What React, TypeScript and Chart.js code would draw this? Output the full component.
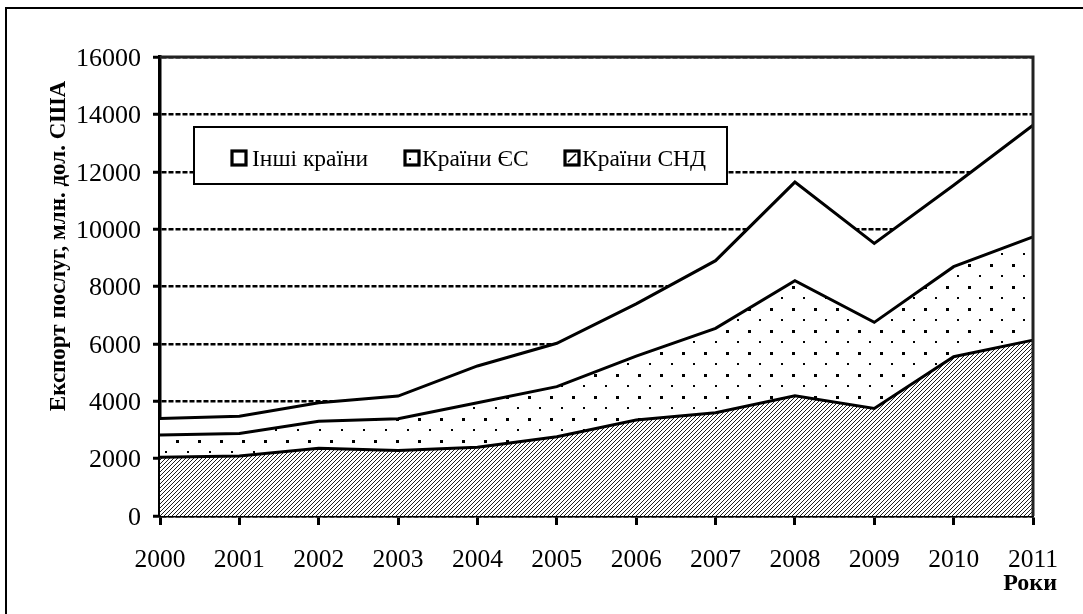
import { useEffect, useRef } from "react";
import { Chart, registerables } from "chart.js";

Chart.register(...registerables);

const years = ["2000", "2001", "2002", "2003", "2004", "2005", "2006", "2007", "2008", "2009", "2010", "2011"];
const cisValues = [2050, 2090, 2360, 2280, 2400, 2760, 3345, 3600, 4190, 3750, 5550, 6130];
const euValues = [770, 790, 940, 1110, 1550, 1750, 2230, 2940, 4010, 3000, 3140, 3600];
const otherValues = [580, 600, 650, 790, 1280, 1510, 1820, 2360, 3440, 2750, 2840, 3890];
const yTickValues = [0, 2000, 4000, 6000, 8000, 10000, 12000, 14000, 16000];
const seriesNames = ["Інші країни", "Країни ЄС", "Країни СНД"];
const yTitle = "Експорт послуг, млн. дол. США";
const xTitle = "Роки";

const FONT = "'Liberation Serif', 'Times New Roman', serif";

function makeHatch(): CanvasPattern | string {
  const c = document.createElement("canvas");
  c.width = 4;
  c.height = 4;
  const g = c.getContext("2d");
  if (!g) return "#888";
  g.fillStyle = "#ffffff";
  g.fillRect(0, 0, 4, 4);
  g.strokeStyle = "#1e1e1e";
  g.lineWidth = 1.0;
  g.beginPath();
  g.moveTo(-1, 5);
  g.lineTo(5, -1);
  g.moveTo(-1, 1);
  g.lineTo(1, -1);
  g.moveTo(3, 5);
  g.lineTo(5, 3);
  g.stroke();
  return g.createPattern(c, "repeat") || "#888";
}

function makeDots(): CanvasPattern | string {
  const c = document.createElement("canvas");
  c.width = 22;
  c.height = 22;
  const g = c.getContext("2d");
  if (!g) return "#fff";
  g.fillStyle = "#ffffff";
  g.fillRect(0, 0, 22, 22);
  g.fillStyle = "#000000";
  g.fillRect(0, 0, 3, 3);
  g.fillRect(11, 11, 2, 2);
  return g.createPattern(c, "repeat") || "#fff";
}

export default function App() {
  const ref = useRef<HTMLCanvasElement | null>(null);

  useEffect(() => {
    const canvas = ref.current;
    if (!canvas) return;
    const hatch = makeHatch();
    const dots = makeDots();

    const decor = {
      id: "decor",
      afterDraw(chart: any) {
        const ctx = chart.ctx as CanvasRenderingContext2D;
        const a = chart.chartArea;
        ctx.save();
        // outer frame (top / left)
        ctx.fillStyle = "#000";
        ctx.fillRect(5, 7, 1078, 2);
        ctx.fillRect(5, 7, 2, 607);
        // plot frame top / right
        ctx.strokeStyle = "#222";
        ctx.lineWidth = 3;
        ctx.beginPath();
        ctx.moveTo(a.left, a.top);
        ctx.lineTo(a.right, a.top);
        ctx.lineTo(a.right, a.bottom);
        ctx.stroke();

        // legend box
        const lx = 194, ly = 127, lw = 533, lh = 57;
        ctx.fillStyle = "#fff";
        ctx.fillRect(lx, ly, lw, lh);
        ctx.strokeStyle = "#000";
        ctx.lineWidth = 2;
        ctx.strokeRect(lx, ly, lw, lh);
        const iconX = [232, 405, 565];
        const textX = [252, 422, 582];
        ctx.font = `23.5px ${FONT}`;
        ctx.textBaseline = "alphabetic";
        ctx.textAlign = "left";
        for (let i = 0; i < 3; i++) {
          const x = iconX[i];
          ctx.fillStyle = "#fff";
          ctx.fillRect(x, 151, 14, 14);
          ctx.fillStyle = "#000";
          if (i === 1) {
            ctx.fillRect(x + 4, 158, 2, 2);
          }
          if (i === 2) {
            ctx.strokeStyle = "#000";
            ctx.lineWidth = 1.5;
            ctx.beginPath();
            ctx.moveTo(x + 3, 162);
            ctx.lineTo(x + 11, 154);
            ctx.stroke();
          }
          ctx.strokeStyle = "#000";
          ctx.lineWidth = 3.2;
          ctx.strokeRect(x, 151, 14, 14);
          ctx.fillStyle = "#000";
          ctx.fillText(seriesNames[i], textX[i], 166);
        }

        // y title
        ctx.save();
        ctx.translate(59, 246);
        ctx.rotate(-Math.PI / 2);
        ctx.font = `bold 23px ${FONT}`;
        ctx.textAlign = "center";
        ctx.textBaseline = "middle";
        ctx.fillStyle = "#000";
        ctx.fillText(yTitle, 0, 0);
        ctx.restore();

        // x title
        ctx.font = `bold 24px ${FONT}`;
        ctx.textAlign = "right";
        ctx.textBaseline = "alphabetic";
        ctx.fillStyle = "#000";
        ctx.fillText(xTitle, 1057, 590);
        ctx.restore();
      },
    };

    const ds = (label: string, data: number[], fill: any, bg: any) => ({
      label,
      data,
      fill,
      backgroundColor: bg,
      borderColor: "#000",
      borderWidth: 3,
      pointRadius: 0,
      tension: 0,
    });

    const chart = new Chart(canvas, {
      type: "line",
      data: {
        labels: years,
        datasets: [
          ds(seriesNames[2], cisValues, "origin", hatch),
          ds(seriesNames[1], euValues, "-1", dots),
          ds(seriesNames[0], otherValues, "-1", "#ffffff"),
        ] as any,
      },
      options: {
        animation: false,
        responsive: false,
        maintainAspectRatio: false,
        layout: { padding: { top: 57, right: 50, left: 0, bottom: 0 } },
        plugins: {
          legend: { display: false },
          tooltip: { enabled: false },
          title: { display: false },
        },
        scales: {
          x: {
            type: "category",
            offset: false,
            grid: {
              drawOnChartArea: false,
              drawTicks: true,
              tickLength: 9,
              tickWidth: 3,
              tickColor: "#000",
            },
            border: { display: true, color: "#000", width: 3.5 },
            ticks: {
              color: "#000",
              font: { family: FONT, size: 25.5 },
              padding: 20,
              maxRotation: 0,
              autoSkip: false,
            },
            afterFit(scale: any) {
              scale.height = 98;
            },
          },
          y: {
            stacked: true,
            min: 0,
            max: 16000,
            afterBuildTicks(scale: any) {
              scale.ticks = yTickValues.map((v) => ({ value: v }));
            },
            grid: {
              color: "#000",
              lineWidth: 2.5,
              drawTicks: true,
              tickLength: 7,
              tickWidth: 3,
              tickColor: "#000",
              tickBorderDash: [],
            },
            border: { display: true, color: "#000", width: 3.5, dash: [5, 2] },
            ticks: {
              color: "#000",
              font: { family: FONT, size: 26 },
              padding: 12,
              labelOffset: 2,
              callback: (v: any) => String(v),
            },
            afterFit(scale: any) {
              scale.width = 160;
            },
          },
        },
      },
      plugins: [decor],
    });

    return () => chart.destroy();
  }, []);

  return (
    <div style={{ position: "absolute", left: 0, top: 0, width: 1083, height: 614 }}>
      <canvas ref={ref} width={1083} height={614} style={{ display: "block", width: 1083, height: 614 }} />
    </div>
  );
}
